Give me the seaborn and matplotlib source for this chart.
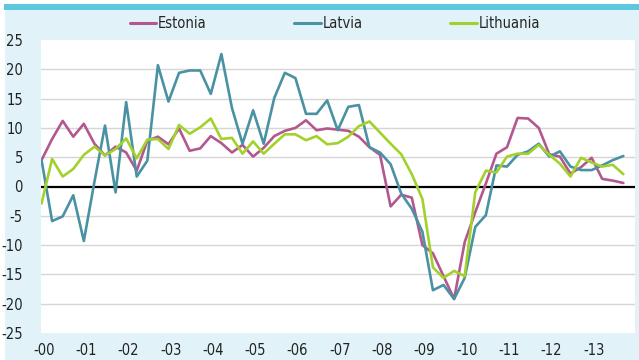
import numpy as np
import pandas as pd
import matplotlib
matplotlib.use("Agg")
import matplotlib.pyplot as plt
from matplotlib.patches import Rectangle
import seaborn as sns

# Quarterly values, 2000 Q1 - 2013 Q4
estonia = [4.5, 8.1, 11.2, 8.5, 10.7, 7.3, 5.3, 6.8, 5.8, 2.7,
           7.8, 8.5, 7.2, 9.9, 6.1, 6.5, 8.6, 7.4, 5.8, 7.1,
           5.1, 6.6, 8.6, 9.5, 10.0, 11.3, 9.6, 9.9, 9.7, 9.5,
           8.5, 6.7, 5.4, -3.4, -1.4, -1.9, -10.0, -11.4, -15.3, -19.2,
           -9.5, -4.4, 0.5, 5.6, 6.7, 11.7, 11.6, 10.0, 5.5, 5.1,
           2.2, 3.3, 4.9, 1.3, 1.0, 0.6]
latvia = [4.5, -5.9, -5.1, -1.5, -9.3, 0.8, 10.4, -1.0, 14.4, 1.7,
          4.4, 20.7, 14.5, 19.4, 19.8, 19.8, 15.8, 22.6, 13.4, 7.3,
          13.0, 7.3, 15.1, 19.4, 18.5, 12.4, 12.4, 14.7, 9.6, 13.6,
          13.9, 6.7, 5.8, 3.8, -1.2, -3.8, -7.7, -17.7, -16.8, -19.2,
          -15.6, -6.9, -4.9, 3.6, 3.4, 5.4, 6.0, 7.3, 5.1, 6.0,
          3.4, 2.8, 2.8, 3.6, 4.5, 5.2]
lithuania = [-2.9, 4.7, 1.7, 3.0, 5.4, 6.8, 5.3, 6.4, 8.2, 4.8,
             8.0, 8.1, 6.4, 10.5, 9.0, 10.1, 11.6, 8.1, 8.3, 5.6,
             7.7, 5.6, 7.3, 8.9, 8.9, 7.9, 8.6, 7.2, 7.4, 8.5,
             10.3, 11.1, 9.2, 7.3, 5.5, 2.1, -2.1, -13.8, -15.6, -14.4,
             -15.3, -1.0, 2.7, 2.4, 5.1, 5.6, 5.6, 7.1, 5.4, 3.9,
             1.7, 4.9, 4.1, 3.4, 3.7, 2.1]
countries = ["Estonia", "Latvia", "Lithuania"]
year_labels = ["-00", "-01", "-02", "-03", "-04", "-05", "-06",
               "-07", "-08", "-09", "-10", "-11", "-12", "-13"]
y_ticks = [-25, -20, -15, -10, -5, 0, 5, 10, 15, 20, 25]

colors = {"Estonia": "#b3588f", "Latvia": "#4a92a3", "Lithuania": "#a3d12b"}
panel_bg = "#e1f3f8"

n = len(estonia)
df = pd.DataFrame({
    "quarter": np.tile(np.arange(n), 3),
    "value": estonia + latvia + lithuania,
    "country": np.repeat(countries, n),
})

sns.set_theme(style="white")
plt.rcParams["font.family"] = ["Liberation Sans Narrow", "DejaVu Sans"]
plt.rcParams["font.stretch"] = "condensed"

W, H = 639, 360
fig = plt.figure(figsize=(W / 100, H / 100), dpi=100)
fig.patch.set_facecolor("white")

# light-blue panel and cyan header bar
fig.add_artist(Rectangle((5 / W, 0), 1 - 5 / W, 1 - 10 / H,
                         transform=fig.transFigure, facecolor=panel_bg,
                         edgecolor="none", zorder=0))
fig.add_artist(Rectangle((4 / W, 1 - 10 / H), 1 - 4 / W, 6 / H,
                         transform=fig.transFigure, facecolor="#5bc8df",
                         edgecolor="none", zorder=0))

ax = fig.add_axes([41 / W, 1 - 333 / H, (635 - 41) / W, (333 - 40) / H])
ax.set_facecolor("white")

for v in y_ticks[1:-1]:
    if v != 0:
        ax.axhline(v, color="#d6d6d6", lw=1.0, zorder=1)
ax.axhline(0, color="black", lw=1.6, zorder=2)

sns.lineplot(data=df, x="quarter", y="value", hue="country",
             palette=colors, linewidth=1.9, ax=ax, legend=False, zorder=3)

ax.set_xlim(-0.05, 56.1)
ax.set_ylim(-25, 25)
ax.set_yticks(y_ticks)
ax.set_yticklabels([str(v) for v in y_ticks])
ax.set_xticks(np.arange(len(year_labels)) * 4 + 0.2)
ax.set_xticklabels(year_labels)
ax.tick_params(axis="y", length=0, pad=13, labelsize=10.5, labelcolor="#222222")
ax.tick_params(axis="x", length=0, pad=7, labelsize=10.5, labelcolor="#222222")
ax.set_xlabel("")
ax.set_ylabel("")
for s in ax.spines.values():
    s.set_visible(False)

handles = [plt.Line2D([], [], color=colors[c], lw=2.2) for c in countries]
fig.legend(handles, countries, loc="center", ncol=3, frameon=False,
           bbox_to_anchor=(335 / W, 1 - 24 / H), fontsize=10.5,
           handlelength=1.8, handletextpad=0.15, columnspacing=6.0)

fig.savefig("out.png", dpi=100, facecolor=fig.get_facecolor())
